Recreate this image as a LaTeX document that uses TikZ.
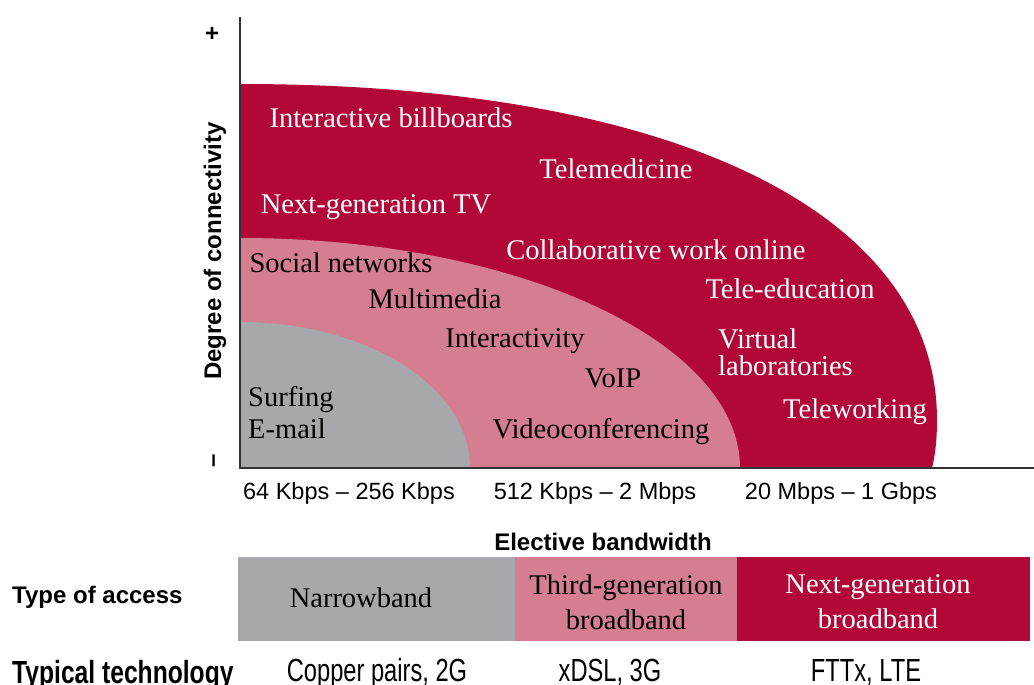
\documentclass[tikz,border=0pt]{standalone}
\usepackage{fontspec}
\setmainfont{Liberation Serif}
\setsansfont{Liberation Sans}
\newfontfamily\narrowsf[FakeStretch=0.74]{Liberation Sans}
\newfontfamily\narrowbf[FakeStretch=0.77]{Liberation Sans Bold}
\definecolor{nextgen}{HTML}{B20838}
\definecolor{thirdgen}{HTML}{D57E92}
\definecolor{narrow}{HTML}{A7A8AC}

\begin{document}
\begin{tikzpicture}[
  x=1pt, y=-1pt,
  wtxt/.style={text=white, font=\fontsize{28.5}{29}\selectfont, inner sep=0pt, anchor=base},
  btxt/.style={wtxt, text=black},
  rng/.style={font=\sffamily\fontsize{23.5}{26}\selectfont, inner sep=0pt, anchor=base},
  lbl/.style={font=\sffamily\bfseries\fontsize{24}{26}\selectfont, inner sep=0pt, anchor=base},
  tech/.style={font=\narrowsf\fontsize{32}{34}\selectfont, inner sep=0pt, anchor=base},
  axis/.style={line width=2pt, draw=black!80},
]
\useasboundingbox (0,0) rectangle (1034,685);
%\draw[gray, help lines, step=50] (0,0) grid (1034,685);
% nested areas
\fill [nextgen] (240,468) -- (240,84) .. controls (680,84) and (937,215) .. (937,420)
  .. controls (937,445) and (934,460) .. (932,468) -- cycle;
\fill [thirdgen] (240,468) -- (240,238) .. controls (516,238) and (740,341) .. (740,468) -- cycle;
\fill [narrow] (240,468) -- (240,322) .. controls (367,322) and (470,387) .. (470,468) -- cycle;
\draw [axis] (240,17) -- (240,468) -- (1034,468);
\node [lbl, rotate=90] (plus) at (220,33) {+};
\node [lbl, rotate=90] (minus) at (220,461) {--};
\node [lbl, rotate=90] (ylabel) at (221,251) {Degree of connectivity};
% applications
\node [wtxt] (billboards) at (391,128) {Interactive billboards};
\node [wtxt] (telemed) at (616,178) {Telemedicine};
\node [wtxt] (nexttv) at (376,213) {Next-generation TV};
\node [wtxt] (collab) at (656,259) {Collaborative work online};
\node [wtxt] (teleedu) at (790,298) {Tele-education};
\node [wtxt, anchor=north west, align=left, font=\fontsize{28.5}{27}\selectfont] (virtlab) at (718,329) {Virtual\\laboratories};
\node [wtxt] (telework) at (855,418) {Teleworking};
\node [btxt] (social) at (341,272) {Social networks};
\node [btxt] (multimedia) at (435,308) {Multimedia};
\node [btxt] (interact) at (515,347) {Interactivity};
\node [btxt] (voip) at (613,387) {VoIP};
\node [btxt] (video) at (601,438) {Videoconferencing};
\node [btxt, anchor=north west, align=left, font=\fontsize{28.5}{32}\selectfont] (surfing) at (248,386) {Surfing\\E-mail};
% bandwidth
\node [rng] (bw1) at (349,499) {64 Kbps -- 256 Kbps};
\node [rng] (bw2) at (595,499) {512 Kbps -- 2 Mbps};
\node [rng] (bw3) at (841,499) {20 Mbps -- 1 Gbps};
\node [lbl] (bwlabel) at (603,550) {Elective bandwidth};
% type of access
\fill [narrow] (238,557) rectangle (515,641);
\fill [thirdgen] (515,557) rectangle (737,641);
\fill [nextgen] (737,557) rectangle (1030,641);
\node [lbl, anchor=base west] (access) at (12,603) {Type of access};
\node [btxt] (nb) at (361,607) {Narrowband};
\node [btxt, anchor=center, align=center, font=\fontsize{28.5}{35}\selectfont] (tgb) at (626,602) {Third-generation\\broadband};
\node [wtxt, anchor=center, align=center, font=\fontsize{28.5}{35}\selectfont] (ngb) at (878,602) {Next-generation\\broadband};
% technology
\node [tech, font=\narrowbf\fontsize{32}{34}\selectfont, anchor=base west] (techlabel) at (12,683) {Typical technology};
\node [tech] (copper) at (377,681) {Copper pairs, 2G};
\node [tech] (xdsl) at (610,681) {xDSL, 3G};
\node [tech] (fttx) at (866,681) {FTTx, LTE};
\end{tikzpicture}
\end{document}
